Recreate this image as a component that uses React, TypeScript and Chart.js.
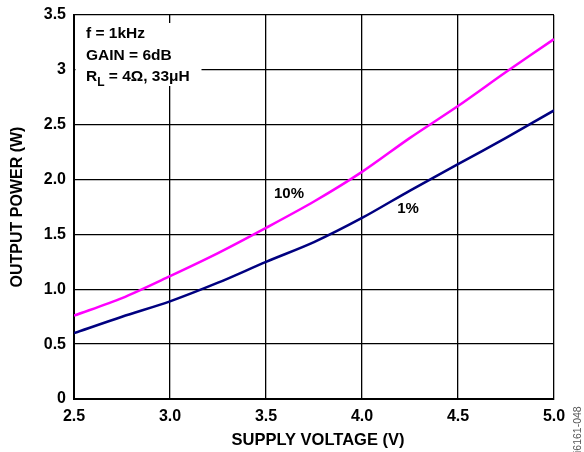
import React, { useEffect, useRef } from "react";
import { Chart, registerables } from "chart.js";

Chart.register(...registerables);

const voltages = [2.5, 2.75, 3.0, 3.25, 3.5, 3.75, 4.0, 4.25, 4.5, 4.75, 5.0];
const power10 = [0.76, 0.92, 1.12, 1.33, 1.56, 1.8, 2.07, 2.38, 2.67, 2.98, 3.28];
const power1 = [0.6, 0.75, 0.89, 1.06, 1.25, 1.43, 1.65, 1.9, 2.14, 2.38, 2.63];
const yTickLabels: Record<string, string> = {
  "0": "0", "0.5": "0.5", "1": "1.0", "1.5": "1.5", "2": "2.0", "2.5": "2.5", "3": "3", "3.5": "3.5",
};
const xTickLabels: Record<string, string> = {
  "2.5": "2.5", "3": "3.0", "3.5": "3.5", "4": "4.0", "4.5": "4.5", "5": "5.0",
};
const seriesNames = ["10%", "1%"];
const noteLines = ["f = 1kHz", "GAIN = 6dB"];
const xTitle = "SUPPLY VOLTAGE (V)";
const yTitle = "OUTPUT POWER (W)";
const figId = "i6161-048";

const FONT = "Arial, 'Liberation Sans', Helvetica, sans-serif";

const textPlugin = {
  id: "textPlugin",
  beforeDatasetsDraw(chart: any) {
    const ctx = chart.ctx;
    const area = chart.chartArea;
    ctx.save();
    ctx.fillStyle = "#fff";
    ctx.fillRect(area.left + 1.5, area.top + 8, 200 - area.left, 63);
    ctx.restore();
  },
  afterDraw(chart: any) {
    const ctx = chart.ctx;
    const area = chart.chartArea;
    const xs = chart.scales.x;
    const ys = chart.scales.y;
    ctx.save();
    ctx.fillStyle = "#000";
    ctx.font = `bold 15.5px ${FONT}`;
    ctx.textAlign = "left";
    ctx.textBaseline = "alphabetic";
    const nx = area.left + 12;
    ctx.fillText(noteLines[0], nx, area.top + 23);
    ctx.fillText(noteLines[1], nx, area.top + 45);
    const y3 = area.top + 66;
    ctx.fillText("R", nx, y3);
    let w = ctx.measureText("R").width;
    ctx.font = `bold 12px ${FONT}`;
    ctx.fillText("L", nx + w, y3 + 5);
    w += ctx.measureText("L").width;
    ctx.font = `bold 15.5px ${FONT}`;
    ctx.fillText(" = 4Ω, 33μH", nx + w, y3);

    ctx.textAlign = "center";
    ctx.textBaseline = "middle";
    ctx.font = `bold 15px ${FONT}`;
    ctx.fillText(seriesNames[0], xs.getPixelForValue(3.62), ys.getPixelForValue(1.87));
    ctx.fillText(seriesNames[1], xs.getPixelForValue(4.24), ys.getPixelForValue(1.73));

    ctx.font = `bold 16.5px ${FONT}`;
    ctx.fillText(xTitle, (area.left + area.right) / 2 + 4, 440);
    ctx.save();
    ctx.translate(18, (area.top + area.bottom) / 2);
    ctx.rotate(-Math.PI / 2);
    ctx.font = `bold 16px ${FONT}`;
    ctx.fillText(yTitle, 0, 0);
    ctx.restore();

    ctx.save();
    ctx.fillStyle = "#555";
    ctx.font = `10.5px ${FONT}`;
    ctx.textAlign = "left";
    ctx.translate(578, 453);
    ctx.rotate(-Math.PI / 2);
    ctx.fillText(figId, 0, 0);
    ctx.restore();
    ctx.restore();
  },
};

export default function App() {
  const ref = useRef<HTMLCanvasElement>(null);
  useEffect(() => {
    document.body.style.margin = "0";
    const canvas = ref.current!;
    const tickFont = { family: FONT, size: 16, weight: "bold" as const };
    const chart = new Chart(canvas, {
      type: "line",
      data: {
        datasets: [
          {
            label: seriesNames[0],
            data: voltages.map((v, i) => ({ x: v, y: power10[i] })),
            borderColor: "#FF00FF",
            borderWidth: 2.5,
            pointRadius: 0,
            tension: 0.3,
            fill: false,
          },
          {
            label: seriesNames[1],
            data: voltages.map((v, i) => ({ x: v, y: power1[i] })),
            borderColor: "#000080",
            borderWidth: 2.5,
            pointRadius: 0,
            tension: 0.3,
            fill: false,
          },
        ],
      },
      options: {
        animation: false,
        responsive: false,
        devicePixelRatio: 1,
        layout: { padding: { top: 15, right: 30, left: 0, bottom: 0 } },
        plugins: { legend: { display: false }, tooltip: { enabled: false }, title: { display: false } },
        scales: {
          x: {
            type: "linear",
            min: 2.5,
            max: 5.0,
            afterFit: (s: any) => { s.height = 53; s.paddingLeft = 0; s.paddingRight = 0; },
            ticks: {
              stepSize: 0.5,
              padding: 8,
              color: "#000",
              font: tickFont,
              maxRotation: 0,
              callback: (v: any) => xTickLabels[String(v)] ?? "",
            },
            grid: { color: "#000", lineWidth: 1.3, drawTicks: false },
            border: { color: "#000", width: 2 },
          },
          y: {
            type: "linear",
            min: 0,
            max: 3.5,
            afterFit: (s: any) => { s.width = 74; s.paddingTop = 0; s.paddingBottom = 0; },
            ticks: {
              stepSize: 0.5,
              padding: 8,
              color: "#000",
              font: tickFont,
              callback: (v: any) => yTickLabels[String(v)] ?? "",
            },
            grid: { color: "#000", lineWidth: 1.3, drawTicks: false },
            border: { color: "#000", width: 2 },
          },
        },
      },
      plugins: [textPlugin],
    });
    return () => chart.destroy();
  }, []);
  return <canvas ref={ref} width={584} height={452} style={{ display: "block" }} />;
}
